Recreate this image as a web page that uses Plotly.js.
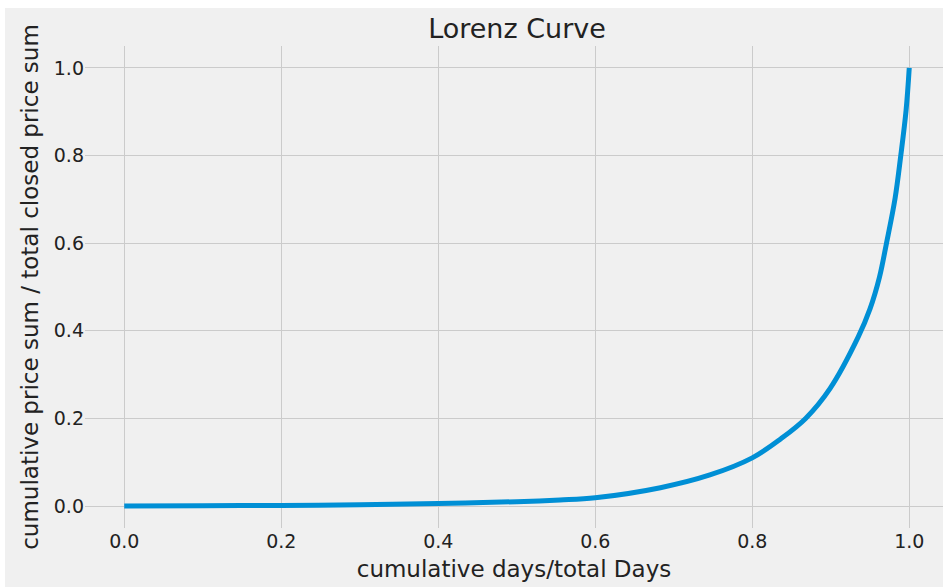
<!DOCTYPE html>
<html>
<head>
<meta charset="utf-8">
<script src="https://cdn.plot.ly/plotly-3.0.1.min.js"></script>
<style>
  html, body { margin: 0; padding: 0; background: #ffffff; }
  #chart { position: absolute; left: 5px; top: 8px; width: 938px; height: 579px; }
</style>
</head>
<body>
<div id="chart"></div>
<script>
// Lorenz curve values
const cumulativeDaysShare = [0, 0.1, 0.2, 0.3, 0.4, 0.5, 0.555, 0.6, 0.683, 0.746, 0.8, 0.836, 0.868, 0.899, 0.935, 0.95, 0.962, 0.971, 0.982, 0.989, 0.996, 1.0];
const cumulativePriceShare = [0, 0.0008, 0.0015, 0.003, 0.006, 0.010, 0.014, 0.019, 0.042, 0.071, 0.11, 0.153, 0.2, 0.268, 0.386, 0.45, 0.522, 0.6, 0.703, 0.797, 0.904, 1.0];
const tickValues = [0, 0.2, 0.4, 0.6, 0.8, 1.0];
const tickLabels = ["0.0", "0.2", "0.4", "0.6", "0.8", "1.0"];

const font = "DejaVu Sans, sans-serif";
const textColor = "#222222";

const trace = {
  x: cumulativeDaysShare,
  y: cumulativePriceShare,
  type: "scatter",
  mode: "lines",
  line: { color: "#008fd5", width: 5, shape: "spline", smoothing: 1.0 },
  hoverinfo: "x+y"
};

const layout = {
  width: 938,
  height: 579,
  paper_bgcolor: "#f0f0f0",
  plot_bgcolor: "#f0f0f0",
  margin: { l: 80, r: 0, t: 38, b: 59 },
  showlegend: false,
  font: { family: font, color: textColor, size: 19 },
  title: {
    text: "Lorenz Curve",
    font: { family: font, size: 27, color: textColor },
    x: 0.5035, xref: "paper", xanchor: "center",
    y: 1 - 21 / 579, yref: "container", yanchor: "middle"
  },
  xaxis: {
    range: [-0.05, -0.05 + 858 / 785],
    tickvals: tickValues,
    ticktext: tickLabels,
    showgrid: true,
    gridcolor: "#cbcbcb",
    gridwidth: 1,
    zeroline: false,
    showline: false,
    ticks: "",
    tickfont: { family: font, size: 19, color: textColor },
    title: { text: "cumulative days/total Days", font: { family: font, size: 23, color: textColor }, standoff: 9 }
  },
  yaxis: {
    range: [-0.05, 1.05],
    tickvals: tickValues,
    ticktext: tickLabels,
    showgrid: true,
    gridcolor: "#cbcbcb",
    gridwidth: 1,
    zeroline: false,
    showline: false,
    ticks: "",
    tickfont: { family: font, size: 19, color: textColor },
    title: { text: "cumulative price sum / total closed price sum", font: { family: font, size: 23, color: textColor }, standoff: 8 }
  }
};

Plotly.newPlot("chart", [trace], layout, { displayModeBar: false, staticPlot: true });
</script>
</body>
</html>
